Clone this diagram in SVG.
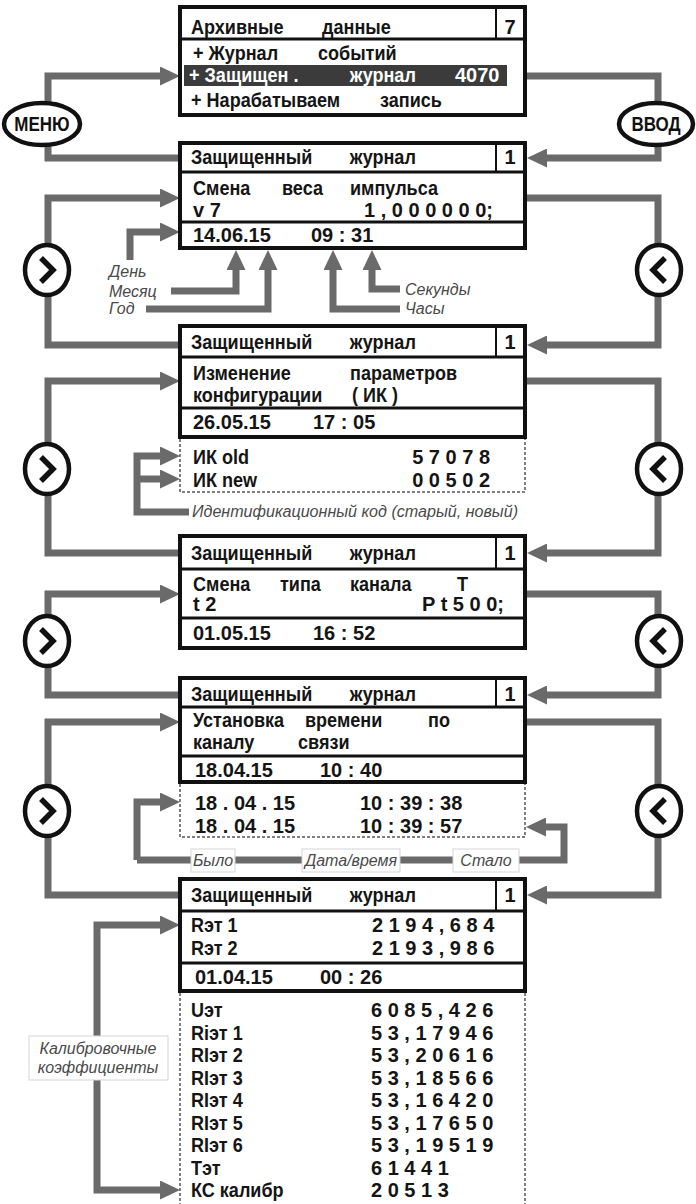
<svg xmlns="http://www.w3.org/2000/svg" width="696" height="1204" viewBox="0 0 696 1204">
<style>
.frame{fill:#fff;stroke:#111;stroke-width:4}
.div{stroke:#111;stroke-width:3}
.cell{stroke:#111;stroke-width:2}
.dash{fill:none;stroke:#555;stroke-width:1.5;stroke-dasharray:3 2}
.c{fill:none;stroke:#6a6a6a;stroke-width:7}
.t{font-family:"Liberation Sans",Arial,sans-serif;font-weight:bold;font-size:20px;fill:#151515}
.k{font-size:21px;transform-box:fill-box;transform-origin:0 50%;transform:scaleX(0.86)}
.w{fill:#fff}
.a{font-family:"Liberation Sans",Arial,sans-serif;font-style:italic;font-size:16px;fill:#4a4a4a}
.lb{fill:#fff;stroke:#d5d5d5;stroke-width:1}
.btn{fill:#fff;stroke:#111;stroke-width:4.5}
.chev{fill:none;stroke:#111;stroke-width:5.5}
.bt{font-family:"Liberation Sans",Arial,sans-serif;font-weight:bold;font-size:20px;fill:#111;transform-box:fill-box;transform-origin:50% 50%;transform:scaleX(0.85)}
</style>
<defs>
<marker id="ah" markerUnits="userSpaceOnUse" markerWidth="20" markerHeight="19" refX="0" refY="9.5" orient="auto">
<path d="M0,0 L20,9.5 L0,19 z" fill="#6a6a6a"/>
</marker>
</defs>

<g id="connectors">
<path class="c" d="M48,102 V76 H160" marker-end="url(#ah)"/>
<path class="c" d="M48,146 V158 H180"/>
<path class="c" d="M525,76 H658 V102"/>
<path class="c" d="M658,146 V158 H547" marker-end="url(#ah)"/>
<path class="c" d="M180,345 H48 V198 H160" marker-end="url(#ah)"/>
<path class="c" d="M525,198 H658 V345 H547" marker-end="url(#ah)"/>
<path class="c" d="M180,553 H48 V381 H160" marker-end="url(#ah)"/>
<path class="c" d="M525,381 H658 V553 H547" marker-end="url(#ah)"/>
<path class="c" d="M180,695 H48 V594 H160" marker-end="url(#ah)"/>
<path class="c" d="M525,594 H658 V695 H547" marker-end="url(#ah)"/>
<path class="c" d="M180,895 H48 V722 H160" marker-end="url(#ah)"/>
<path class="c" d="M525,722 H658 V895 H547" marker-end="url(#ah)"/>
<path class="c" d="M130,260 V232 H160" marker-end="url(#ah)"/>
<path class="c" d="M171,291 H236 V270" marker-end="url(#ah)"/>
<path class="c" d="M146,309 H268 V270" marker-end="url(#ah)"/>
<path class="c" d="M400,309 H333 V270" marker-end="url(#ah)"/>
<path class="c" d="M400,289 H372 V270" marker-end="url(#ah)"/>
<path class="c" d="M189,512 H137 V456 H160" marker-end="url(#ah)"/>
<path class="c" d="M137,479 H160" marker-end="url(#ah)"/>
<path class="c" d="M137,860 V802 H160" marker-end="url(#ah)"/>
<path class="c" d="M137,860 H564 V827 H546" marker-end="url(#ah)"/>
<path class="c" d="M97,1036 V925 H160" marker-end="url(#ah)"/>
<path class="c" d="M97,1080 V1190 H160" marker-end="url(#ah)"/>
</g>

<g id="btn-menu">
<ellipse class="btn" cx="42" cy="124" rx="38" ry="21"/>
<text class="bt" x="42" y="131" text-anchor="middle">МЕНЮ</text>
</g>
<g id="btn-vvod">
<ellipse class="btn" cx="656" cy="124" rx="37" ry="21"/>
<text class="bt" x="656" y="131" text-anchor="middle">ВВОД</text>
</g>

<g id="next1"><ellipse class="btn" cx="47" cy="270" rx="22" ry="25"/><polyline class="chev" points="41,258 53,270 41,282"/></g>
<g id="prev1"><ellipse class="btn" cx="659" cy="270" rx="22" ry="25"/><polyline class="chev" points="665,258 653,270 665,282"/></g>
<g id="next2"><ellipse class="btn" cx="47" cy="469" rx="22" ry="25"/><polyline class="chev" points="41,457 53,469 41,481"/></g>
<g id="prev2"><ellipse class="btn" cx="659" cy="469" rx="22" ry="25"/><polyline class="chev" points="665,457 653,469 665,481"/></g>
<g id="next3"><ellipse class="btn" cx="47" cy="641" rx="22" ry="25"/><polyline class="chev" points="41,629 53,641 41,653"/></g>
<g id="prev3"><ellipse class="btn" cx="659" cy="641" rx="22" ry="25"/><polyline class="chev" points="665,629 653,641 665,653"/></g>
<g id="next4"><ellipse class="btn" cx="47" cy="811" rx="22" ry="25"/><polyline class="chev" points="41,799 53,811 41,823"/></g>
<g id="prev4"><ellipse class="btn" cx="659" cy="811" rx="22" ry="25"/><polyline class="chev" points="665,799 653,811 665,823"/></g>

<g id="box1">
<rect class="frame" x="180" y="7" width="345" height="108"/>
<line class="div" x1="180" y1="39" x2="525" y2="39"/>
<line class="cell" x1="496" y1="7" x2="496" y2="39"/>
<text class="t k" x="191" y="34">Архивные</text>
<text class="t k" x="322" y="34">данные</text>
<text class="t" x="510" y="34" text-anchor="middle">7</text>
<text class="t k" x="193" y="60">+ Журнал</text>
<text class="t k" x="318" y="60">событий</text>
<rect x="184" y="65" width="323" height="21" fill="#3b3b3b"/>
<text class="t k w" x="189" y="82">+ Защищен .</text>
<text class="t k w" x="350" y="82">журнал</text>
<text class="t w" x="455" y="82">4070</text>
<text class="t k" x="191" y="107">+ Нарабатываем</text>
<text class="t k" x="380" y="107">запись</text>
</g>

<g id="box2">
<rect class="frame" x="180" y="143" width="345" height="105"/>
<line class="div" x1="180" y1="172" x2="525" y2="172"/>
<line class="cell" x1="496" y1="143" x2="496" y2="172"/>
<line class="div" x1="180" y1="222" x2="525" y2="222"/>
<text class="t k" x="191" y="164">Защищенный</text>
<text class="t k" x="350" y="164">журнал</text>
<text class="t" x="510" y="164" text-anchor="middle">1</text>
<text class="t k" x="193" y="195">Смена</text>
<text class="t k" x="282" y="195">веса</text>
<text class="t k" x="350" y="195">импульса</text>
<text class="t" x="193" y="217">v 7</text>
<text class="t" x="493" y="217" text-anchor="end">1 , 0 0 0 0 0 0;</text>
<text class="t" x="193" y="242">14.06.15</text>
<text class="t" x="311" y="242">09 : 31</text>
</g>

<g id="date-labels">
<text class="a" x="109" y="277">День</text>
<text class="a" x="109" y="297">Месяц</text>
<text class="a" x="109" y="314">Год</text>
<text class="a" x="405" y="295">Секунды</text>
<text class="a" x="405" y="314">Часы</text>
</g>

<g id="box3">
<rect class="frame" x="180" y="326" width="345" height="111"/>
<line class="div" x1="180" y1="357" x2="525" y2="357"/>
<line class="cell" x1="496" y1="326" x2="496" y2="357"/>
<line class="div" x1="180" y1="408" x2="525" y2="408"/>
<text class="t k" x="191" y="349">Защищенный</text>
<text class="t k" x="350" y="349">журнал</text>
<text class="t" x="510" y="349" text-anchor="middle">1</text>
<text class="t k" x="193" y="380">Изменение</text>
<text class="t k" x="350" y="380">параметров</text>
<text class="t k" x="193" y="402">конфигурации</text>
<text class="t k" x="352" y="402">( ИК )</text>
<text class="t" x="193" y="429">26.05.15</text>
<text class="t" x="313" y="429">17 : 05</text>
<path class="dash" d="M180,439 V492 H525 V439"/>
<text class="t k" x="193" y="464">ИК old</text>
<text class="t" x="490" y="464" text-anchor="end">5 7 0 7 8</text>
<text class="t k" x="193" y="487">ИК new</text>
<text class="t" x="490" y="487" text-anchor="end">0 0 5 0 2</text>
</g>
<text id="ik-label" class="a" x="192" y="517" textLength="326" lengthAdjust="spacingAndGlyphs">Идентификационный код (старый, новый)</text>

<g id="box4">
<rect class="frame" x="180" y="536" width="345" height="112"/>
<line class="div" x1="180" y1="569" x2="525" y2="569"/>
<line class="cell" x1="496" y1="536" x2="496" y2="569"/>
<line class="div" x1="180" y1="618" x2="525" y2="618"/>
<text class="t k" x="191" y="560">Защищенный</text>
<text class="t k" x="350" y="560">журнал</text>
<text class="t" x="510" y="560" text-anchor="middle">1</text>
<text class="t k" x="193" y="591">Смена</text>
<text class="t k" x="280" y="591">типа</text>
<text class="t k" x="350" y="591">канала</text>
<text class="t k" x="457" y="591">Т</text>
<text class="t" x="193" y="611">t 2</text>
<text class="t" x="504" y="611" text-anchor="end">P t 5 0 0;</text>
<text class="t" x="193" y="640">01.05.15</text>
<text class="t" x="313" y="640">16 : 52</text>
</g>

<g id="box5">
<rect class="frame" x="180" y="678" width="345" height="104"/>
<line class="div" x1="180" y1="707" x2="525" y2="707"/>
<line class="cell" x1="496" y1="678" x2="496" y2="707"/>
<line class="div" x1="180" y1="756" x2="525" y2="756"/>
<text class="t k" x="191" y="701">Защищенный</text>
<text class="t k" x="350" y="701">журнал</text>
<text class="t" x="510" y="701" text-anchor="middle">1</text>
<text class="t k" x="193" y="727">Установка</text>
<text class="t k" x="305" y="727">времени</text>
<text class="t k" x="428" y="727">по</text>
<text class="t k" x="193" y="749">каналу</text>
<text class="t k" x="298" y="749">связи</text>
<text class="t" x="195" y="777">18.04.15</text>
<text class="t" x="320" y="777">10 : 40</text>
<path class="dash" d="M180,784 V837 H525 V784"/>
<text class="t" x="195" y="810">18 . 04 . 15</text>
<text class="t" x="360" y="810">10 : 39 : 38</text>
<text class="t" x="195" y="833">18 . 04 . 15</text>
<text class="t" x="360" y="833">10 : 39 : 57</text>
</g>

<g id="time-labels">
<rect class="lb" x="191" y="849" width="44" height="23"/>
<text class="a" x="213" y="866" text-anchor="middle">Было</text>
<rect class="lb" x="302" y="849" width="98" height="23"/>
<text class="a" x="351" y="866" text-anchor="middle">Дата/время</text>
<rect class="lb" x="453" y="849" width="66" height="23"/>
<text class="a" x="486" y="866" text-anchor="middle">Стало</text>
</g>

<g id="box6">
<rect class="frame" x="180" y="879" width="345" height="112"/>
<line class="div" x1="180" y1="911" x2="525" y2="911"/>
<line class="cell" x1="496" y1="879" x2="496" y2="911"/>
<line class="div" x1="180" y1="963" x2="525" y2="963"/>
<text class="t k" x="191" y="902">Защищенный</text>
<text class="t k" x="350" y="902">журнал</text>
<text class="t" x="510" y="902" text-anchor="middle">1</text>
<text class="t k" x="191" y="932">Rэт 1</text>
<text class="t" x="372" y="932">2 1 9 4 , 6 8 4</text>
<text class="t k" x="191" y="955">Rэт 2</text>
<text class="t" x="372" y="955">2 1 9 3 , 9 8 6</text>
<text class="t" x="195" y="984">01.04.15</text>
<text class="t" x="320" y="984">00 : 26</text>
<path class="dash" d="M180,993 V1210 M525,993 V1210"/>
<text class="t k" x="191" y="1017">Uэт</text>
<text class="t" x="371" y="1017">6 0 8 5 , 4 2 6</text>
<text class="t k" x="191" y="1040">Riэт 1</text>
<text class="t" x="371" y="1040">5 3 , 1 7 9 4 6</text>
<text class="t k" x="191" y="1062">RIэт 2</text>
<text class="t" x="371" y="1062">5 3 , 2 0 6 1 6</text>
<text class="t k" x="191" y="1085">RIэт 3</text>
<text class="t" x="371" y="1085">5 3 , 1 8 5 6 6</text>
<text class="t k" x="191" y="1107">RIэт 4</text>
<text class="t" x="371" y="1107">5 3 , 1 6 4 2 0</text>
<text class="t k" x="191" y="1130">RIэт 5</text>
<text class="t" x="371" y="1130">5 3 , 1 7 6 5 0</text>
<text class="t k" x="191" y="1152">RIэт 6</text>
<text class="t" x="371" y="1152">5 3 , 1 9 5 1 9</text>
<text class="t k" x="191" y="1175">Tэт</text>
<text class="t" x="371" y="1175">6 1 4 4 1</text>
<text class="t k" x="191" y="1197">КС калибр</text>
<text class="t" x="371" y="1197">2 0 5 1 3</text>
</g>

<g id="calib-label">
<rect class="lb" x="29" y="1036" width="139" height="44"/>
<text class="a" x="98" y="1054" text-anchor="middle">Калибровочные</text>
<text class="a" x="98" y="1073" text-anchor="middle">коэффициенты</text>
</g>
</svg>
